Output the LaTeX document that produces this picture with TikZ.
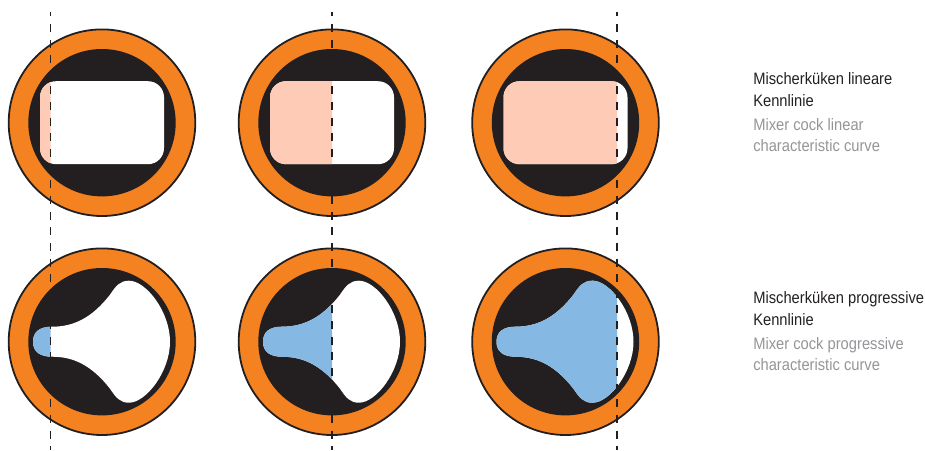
\documentclass[tikz,border=0pt]{standalone}
\usepackage{fontspec}
\setmainfont[FakeStretch=0.89]{Liberation Sans}
\definecolor{ringo}{HTML}{F58220}
\definecolor{ink}{HTML}{231F20}
\definecolor{pinkf}{HTML}{FDCBB6}
\definecolor{bluef}{HTML}{85B9E3}
\definecolor{greyt}{HTML}{939598}
\newcommand{\dial}[2]{%
  \fill[ringo,draw=ink,line width=1.35pt] (#1,#2) circle (93.3);
  \fill[ink] (#1,#2) circle (73.7);
}
\newcommand{\blobpath}{(-69,0) .. controls (-69,-10) and (-62,-15) .. (-50,-15)
  .. controls (-28,-15) and (-10,-24) .. (8,-47)
  .. controls (14,-56) and (18,-61) .. (27,-61)
  .. controls (44,-61) and (68,-30) .. (68,0)
  .. controls (68,30) and (44,61) .. (27,61)
  .. controls (18,61) and (14,56) .. (8,47)
  .. controls (-10,24) and (-28,15) .. (-50,15)
  .. controls (-62,15) and (-69,10) .. (-69,0) -- cycle}
\newcommand{\rectcell}[3]{% cx, cy, cut x
  \dial{#1}{#2}
  \begin{scope}[shift={(#1,#2)}]
    \fill[white,rounded corners=12] (-62,-41.5) rectangle (62,41.5);
    \begin{scope}
      \clip (-100,-100) rectangle (#3-#1,100);
      \fill[pinkf,rounded corners=12] (-62,-41.5) rectangle (62,41.5);
    \end{scope}
  \end{scope}}
\newcommand{\blobcell}[3]{%
  \dial{#1}{#2}
  \begin{scope}[shift={(#1,#2)}]
    \fill[white] \blobpath;
    \begin{scope}
      \clip (-100,-100) rectangle (#3-#1,100);
      \fill[bluef] \blobpath;
    \end{scope}
  \end{scope}}
\tikzset{
  caption/.style={anchor=base west,inner sep=0pt,font=\fontsize{12.4pt}{12.4pt}\selectfont},
  capdark/.style={caption,text=ink},
  capgrey/.style={caption,text=greyt},
  cutline/.style={draw=ink,line width=1.1pt,dash pattern=on 6pt off 5.73pt,dash phase=2.8pt}
}
\begin{document}
\begin{tikzpicture}[x=0.75pt,y=-0.75pt]
\useasboundingbox (0,0) rectangle (925,450);
\rectcell{102}{122.7}{50.7}
\rectcell{332}{122.7}{332}
\rectcell{565.5}{122.7}{617}
\blobcell{102}{341.7}{50.7}
\blobcell{332}{341.7}{332}
\blobcell{565.5}{341.7}{617}
\coordinate (a1) at (50.7,12); \coordinate (a2) at (50.7,450);
\coordinate (b1) at (332,12); \coordinate (b2) at (332,450);
\coordinate (c1) at (617,12); \coordinate (c2) at (617,450);
\draw[cutline] (a1) -- (a2);
\draw[cutline] (b1) -- (b2);
\draw[cutline] (c1) -- (c2);
\node[capdark] (t1) at (753,84) {Mischerküken lineare};
\node[capdark] (t2) at (753,106) {Kennlinie};
\node[capgrey] (t3) at (753,130) {Mixer cock linear};
\node[capgrey] (t4) at (753,151) {characteristic curve};
\node[capdark] (t5) at (753,303) {Mischerküken progressive};
\node[capdark] (t6) at (753,325) {Kennlinie};
\node[capgrey] (t7) at (753,349) {Mixer cock progressive};
\node[capgrey] (t8) at (753,370) {characteristic curve};
\end{tikzpicture}
\end{document}
